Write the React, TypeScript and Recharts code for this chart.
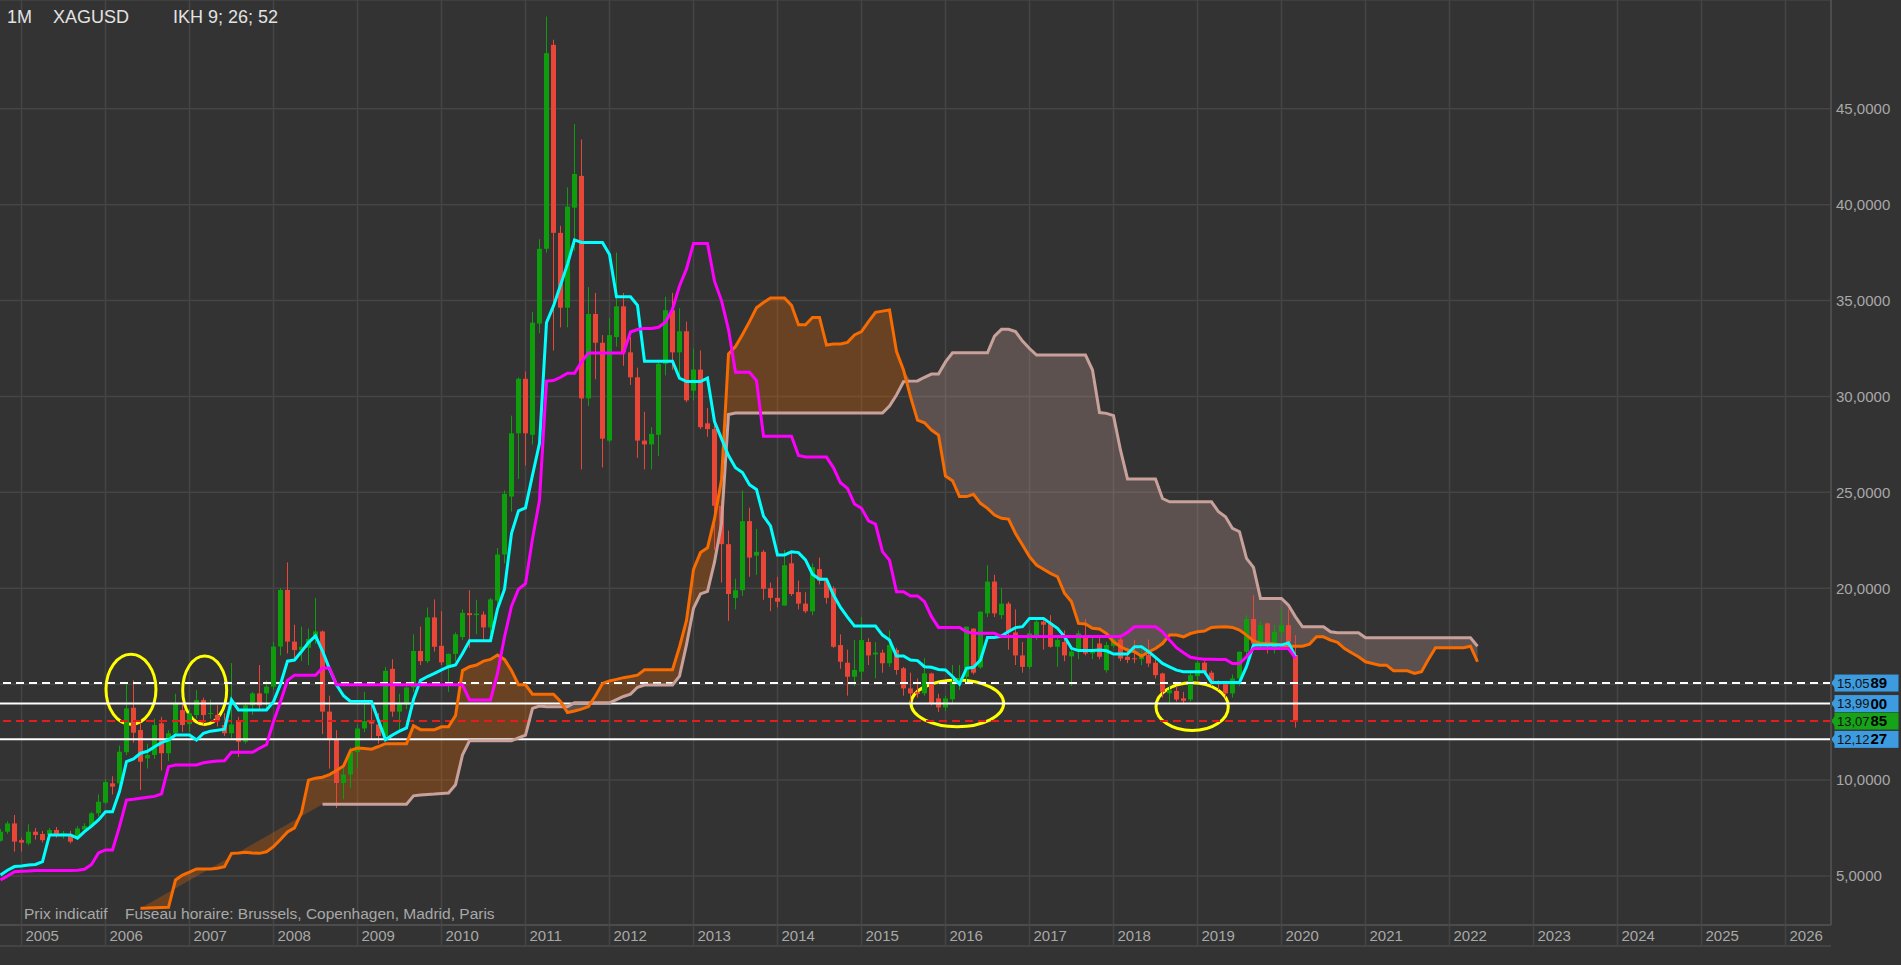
import React from 'react';
import {
  ComposedChart,
  Bar,
  Line,
  Area,
  XAxis,
  YAxis,
  CartesianGrid,
  ReferenceLine,
  ReferenceArea,
} from 'recharts';

const FONT = '"Liberation Sans", Arial, Helvetica, sans-serif';

// first category = October 2004, one category per month
const FIRST_YEAR = 2004;
const FIRST_MONTH = 9; // 0-based (October)
const MONTH_COUNT = 262;

// ---- monthly candles, Oct 2004 .. Mar 2020 ----
const opens = [
  6.84, 7.31, 7.74,
  6.87, 6.70, 7.31, 7.19, 7.14, 7.40, 7.10, 7.14, 6.96, 7.43, 7.60, 8.27,
  8.82, 9.83, 9.83, 11.45, 13.77, 12.61, 11.13, 11.31, 12.96, 11.40, 12.44, 13.65,
  12.92, 13.39, 14.17, 13.45, 13.40, 12.87, 12.44, 13.13, 12.00, 13.90, 14.52, 14.52,
  14.87, 16.96, 19.91, 17.22, 16.78, 16.90, 17.40, 17.75, 13.57, 12.11, 9.85, 10.29,
  11.46, 12.69, 13.07, 12.90, 12.30, 15.80, 13.57, 13.95, 14.83, 16.73, 16.20, 18.48,
  17.00, 15.85, 16.58, 17.46, 18.70, 18.60, 18.63, 17.96, 19.36, 21.76, 24.78, 28.08,
  30.92, 28.00, 33.80, 37.70, 48.33, 38.53, 34.63, 39.84, 41.50, 29.90, 34.30, 32.80,
  27.70, 33.10, 34.70, 32.30, 31.00, 27.70, 27.50, 28.00, 31.70, 34.50, 32.30, 33.40,
  30.30, 31.40, 28.60, 28.30, 24.30, 22.30, 19.50, 19.90, 23.50, 21.70, 21.90, 20.00,
  19.50, 19.10, 21.30, 19.80, 19.20, 18.80, 21.00, 20.40, 20.00, 17.04, 16.12, 15.39,
  15.65, 17.20, 16.55, 16.64, 16.09, 16.78, 15.83, 14.78, 14.60, 14.52, 15.56, 14.26,
  13.79, 14.21, 15.10, 15.39, 17.90, 15.88, 18.69, 20.35, 18.60, 19.20, 17.70, 16.50,
  15.90, 17.56, 18.26, 18.17, 16.95, 17.20, 16.45, 16.70, 17.56, 16.60, 17.12, 15.73,
  17.00, 17.33, 16.43, 16.35, 16.30, 16.52, 16.12, 15.56, 14.52, 14.65, 14.26, 14.20,
  15.42, 16.12, 15.60, 15.13, 15.00, 14.52, 15.30, 16.69, 18.40, 17.12, 18.17, 16.78,
  17.73, 18.08, 16.52,
];
const highs = [
  7.45, 7.85, 8.18,
  7.00, 7.70, 7.50, 7.35, 7.50, 7.55, 7.35, 7.35, 7.60, 7.75, 8.35, 9.25,
  10.05, 10.20, 11.80, 15.10, 15.20, 13.00, 11.90, 13.20, 13.30, 12.60, 14.50, 14.10,
  13.70, 14.70, 14.30, 14.20, 13.90, 13.50, 16.10, 13.30, 14.00, 14.60, 16.00, 15.20,
  17.20, 20.00, 21.35, 18.10, 18.00, 17.90, 19.50, 17.80, 14.40, 12.60, 10.90, 11.70,
  12.90, 14.60, 14.10, 13.50, 15.90, 16.30, 14.50, 15.10, 17.60, 18.00, 19.00, 19.42,
  18.80, 16.60, 17.70, 18.90, 19.90, 19.40, 18.80, 19.50, 22.10, 25.10, 29.00, 31.00,
  31.30, 34.40, 38.20, 49.80, 48.60, 38.90, 40.90, 44.20, 43.40, 35.70, 35.40, 33.20,
  34.10, 37.50, 35.40, 33.10, 31.50, 29.20, 28.40, 31.80, 35.20, 35.40, 34.60, 33.90,
  32.50, 32.40, 29.40, 28.70, 24.60, 23.00, 20.50, 25.10, 24.20, 23.10, 22.00, 20.30,
  20.60, 22.00, 21.90, 20.40, 19.80, 21.30, 21.60, 20.50, 20.10, 17.60, 16.80, 17.30,
  18.50, 17.40, 17.20, 16.80, 17.80, 16.90, 15.90, 15.60, 15.30, 16.35, 15.60, 14.50,
  14.40, 16.00, 16.00, 18.00, 17.90, 18.80, 21.20, 20.70, 20.00, 19.30, 18.90, 17.20,
  17.80, 18.50, 18.40, 18.60, 17.40, 17.80, 16.90, 17.80, 18.40, 17.50, 17.40, 17.20,
  17.70, 17.40, 16.90, 17.30, 16.80, 17.33, 16.30, 15.60, 14.90, 14.90, 14.60, 15.60,
  16.20, 16.20, 15.70, 15.20, 15.05, 15.50, 16.70, 18.60, 19.64, 18.30, 18.20, 18.10,
  18.90, 18.90, 17.56,
];
const lows = [
  6.80, 7.20, 6.27,
  6.27, 6.60, 6.90, 6.75, 6.95, 7.00, 6.95, 6.70, 6.90, 7.25, 7.55, 8.10,
  8.75, 9.25, 9.60, 11.30, 11.95, 9.48, 10.60, 11.10, 10.50, 11.00, 12.30, 12.50,
  12.50, 13.20, 12.90, 13.20, 12.80, 12.30, 12.20, 11.20, 11.90, 13.40, 13.70, 13.70,
  14.70, 16.50, 16.60, 16.30, 16.20, 16.00, 17.10, 12.40, 10.60, 8.54, 9.00, 9.60,
  10.60, 12.50, 12.10, 11.90, 12.20, 13.30, 12.50, 13.70, 14.60, 16.00, 16.10, 16.70,
  16.00, 14.60, 16.20, 17.30, 16.90, 17.60, 17.30, 17.60, 19.10, 21.30, 24.00, 25.70,
  26.40, 27.50, 33.30, 37.50, 32.40, 33.60, 33.60, 37.60, 26.20, 29.50, 30.90, 26.30,
  27.60, 32.60, 31.60, 30.60, 26.80, 26.20, 26.20, 26.90, 31.10, 31.40, 31.10, 29.70,
  29.80, 28.30, 27.90, 22.00, 20.30, 18.30, 18.90, 19.60, 20.60, 20.70, 19.40, 18.80,
  19.00, 19.10, 19.60, 18.90, 18.70, 18.60, 20.20, 19.20, 16.90, 15.80, 14.40, 14.90,
  15.20, 16.00, 15.30, 15.60, 15.90, 15.50, 14.40, 14.00, 14.30, 14.40, 13.90, 13.55,
  13.60, 14.00, 14.70, 15.00, 15.50, 15.80, 18.50, 18.50, 18.40, 16.80, 16.00, 15.60,
  15.80, 17.30, 16.80, 16.90, 15.90, 16.20, 14.90, 16.30, 16.50, 16.30, 16.30, 15.60,
  16.90, 16.20, 16.10, 16.10, 16.00, 15.90, 15.30, 14.30, 13.96, 14.10, 13.96, 14.10,
  15.20, 15.50, 14.90, 14.70, 14.30, 14.30, 14.90, 16.50, 16.90, 16.90, 16.60, 16.60,
  17.40, 16.80, 12.74,
];
const closes = [
  7.31, 7.74, 6.79,
  6.74, 7.31, 7.14, 6.87, 7.40, 7.10, 7.22, 6.79, 7.48, 7.60, 8.27, 8.87,
  9.90, 9.66, 11.48, 13.74, 12.47, 10.96, 11.31, 12.87, 11.40, 12.44, 13.97, 12.87,
  13.48, 14.17, 13.39, 13.50, 13.10, 12.44, 12.90, 12.00, 13.90, 14.52, 13.90, 14.87,
  16.96, 19.91, 17.22, 16.78, 16.95, 17.35, 17.75, 13.57, 12.11, 9.85, 10.29, 11.46,
  12.69, 13.07, 12.95, 12.30, 15.70, 13.57, 13.95, 14.83, 16.73, 16.20, 18.48, 16.95,
  16.14, 16.58, 17.60, 18.72, 18.60, 18.68, 17.96, 19.42, 21.76, 24.92, 28.08, 30.92,
  28.08, 33.85, 37.70, 47.90, 38.53, 34.63, 39.90, 41.60, 29.90, 34.30, 32.80, 27.80,
  33.20, 34.70, 32.30, 31.00, 27.70, 27.50, 28.05, 31.70, 34.50, 32.30, 33.40, 29.80,
  31.40, 28.40, 28.30, 24.30, 22.30, 19.70, 19.90, 23.50, 21.60, 21.90, 19.97, 19.50,
  19.30, 21.20, 19.70, 19.20, 18.80, 21.10, 20.40, 19.50, 16.95, 16.17, 15.39, 15.74,
  17.30, 16.50, 16.65, 16.09, 17.04, 15.74, 14.78, 14.52, 14.50, 15.56, 14.00, 13.79,
  14.26, 15.13, 15.30, 18.00, 15.60, 18.78, 20.35, 18.69, 19.20, 17.70, 16.50, 15.90,
  17.65, 18.26, 18.10, 16.95, 17.30, 16.50, 16.70, 17.65, 16.60, 16.75, 16.43, 17.04,
  17.33, 16.34, 16.26, 16.30, 16.45, 16.08, 15.47, 14.60, 14.69, 14.20, 14.13, 15.47,
  16.12, 15.65, 15.13, 15.00, 14.52, 15.30, 16.69, 18.40, 17.12, 18.08, 17.12, 17.73,
  18.08, 17.21, 13.08,
];

// ---- Ichimoku lines ----
const tenkan = [
  5.05, 5.30, 5.49,
  5.52, 5.57, 5.60, 5.75, 7.14, 7.14, 7.14, 7.14, 6.97, 7.31, 7.60, 7.92,
  8.35, 8.35, 9.40, 10.96, 11.10, 11.40, 11.50, 11.74, 11.95, 12.09, 12.35, 12.35,
  12.35, 12.09, 12.44, 12.55, 12.60, 12.65, 14.18, 13.65, 13.65, 13.65, 13.65, 13.65,
  14.09, 15.00, 16.20, 16.26, 16.70, 17.17, 17.52, 16.73, 15.80, 14.97, 14.40, 14.10,
  14.10, 14.10, 14.10, 13.10, 12.11, 12.35, 12.55, 12.72, 14.20, 15.20, 15.40, 15.56,
  15.75, 15.91, 16.00, 16.60, 17.26, 17.26, 17.26, 17.26, 18.92, 19.95, 22.87, 24.04,
  24.19, 25.90, 27.56, 33.85, 34.72, 35.80, 36.90, 38.16, 38.03, 38.03, 38.03, 38.03,
  37.40, 35.20, 35.20, 35.20, 34.75, 31.84, 31.84, 31.84, 31.84, 31.84, 30.96, 30.78,
  30.78, 30.78, 30.96, 28.69, 27.80, 26.92, 26.28, 26.03, 25.40, 25.15, 23.76, 23.25,
  21.74, 21.74, 21.90, 21.86, 21.48, 20.73, 20.47, 20.47, 19.65, 19.00, 18.50, 18.03,
  18.03, 18.03, 18.03, 17.56, 17.30, 16.47, 16.47, 16.26, 16.23, 15.91, 15.88, 15.77,
  15.74, 15.40, 15.01, 15.83, 15.88, 16.26, 17.44, 17.44, 17.51, 17.75, 17.95, 18.00,
  18.43, 18.43, 18.43, 18.17, 17.91, 17.48, 16.87, 16.75, 16.75, 16.75, 16.78, 16.74,
  16.57, 16.57, 16.57, 16.95, 16.95, 16.70, 16.40, 16.08, 15.90, 15.73, 15.65, 15.65,
  15.65, 15.65, 15.09, 15.09, 15.09, 15.09, 15.09, 15.91, 17.04, 17.04, 17.04, 17.04,
  17.04, 17.16, 16.43,
];
const kijun = [
  4.79, 5.00, 5.22,
  5.25, 5.26, 5.28, 5.28, 5.28, 5.28, 5.28, 5.28, 5.30, 5.35, 5.60, 6.20,
  6.36, 6.36, 7.57, 8.96, 9.00, 9.05, 9.10, 9.15, 9.28, 10.70, 10.79, 10.79,
  10.79, 10.79, 10.90, 10.96, 11.00, 11.01, 11.45, 11.45, 11.45, 11.45, 11.66, 11.85,
  13.05, 14.09, 15.20, 15.47, 15.47, 15.47, 15.47, 15.85, 15.85, 14.97, 14.97, 14.97,
  14.97, 14.97, 14.97, 14.97, 14.97, 14.97, 14.97, 14.97, 14.97, 14.97, 14.97, 14.97,
  14.97, 14.97, 14.97, 14.97, 14.18, 14.18, 14.18, 14.18, 15.56, 17.46, 19.07, 19.95,
  20.24, 22.58, 24.60, 30.80, 30.83, 31.00, 31.21, 31.21, 31.80, 32.27, 32.27, 32.27,
  32.27, 32.27, 32.27, 33.36, 33.49, 33.55, 33.55, 33.61, 33.87, 34.55, 35.76, 36.65,
  37.98, 37.98, 37.98, 36.01, 35.00, 33.49, 31.26, 31.26, 31.26, 30.83, 27.93, 27.93,
  27.93, 27.93, 27.93, 26.92, 26.84, 26.84, 26.84, 26.84, 26.28, 25.50, 25.21, 24.39,
  24.17, 23.52, 23.35, 21.91, 21.47, 19.82, 19.82, 19.60, 19.60, 19.30, 18.52, 17.96,
  17.96, 17.96, 17.96, 17.74, 17.65, 17.65, 17.65, 17.65, 17.48, 17.48, 17.48, 17.48,
  17.48, 17.48, 17.48, 17.48, 17.48, 17.48, 17.48, 17.48, 17.48, 17.48, 17.48, 17.48,
  17.48, 17.48, 17.70, 17.99, 17.99, 17.99, 17.99, 17.73, 17.30, 16.90, 16.64, 16.40,
  16.34, 16.30, 16.30, 16.29, 16.29, 16.08, 16.08, 16.43, 16.86, 16.86, 16.86, 16.86,
  16.86, 16.86, 16.34,
];
// Senkou span A, from Jun 2006 to May 2022
const spanAStart = 20;
const spanA = [
  3.32, 3.33, 3.35, 3.36, 3.37, 4.79, 5.05,
  5.20, 5.37, 5.37, 5.37, 5.40, 5.49, 6.18, 6.20, 6.24, 6.20, 6.18, 6.26,
  6.53, 6.90, 7.30, 7.51, 8.30, 10.00, 10.10, 10.15, 10.29, 10.50, 10.73, 11.55,
  11.67, 11.65, 11.61, 11.75, 11.90, 11.90, 11.90, 11.90, 12.84, 12.63, 12.63, 12.63,
  12.78, 12.78, 13.36, 15.71, 15.91, 16.00, 16.20, 16.29, 16.52, 16.29, 15.71, 14.97,
  14.97, 14.48, 14.48, 14.48, 14.48, 14.10, 13.52, 13.60, 13.70, 13.83, 14.40, 15.04,
  15.17, 15.25, 15.34, 15.40, 15.47, 15.75, 15.75, 15.75, 15.75, 15.75, 16.94, 18.32,
  20.98, 21.86, 22.11, 23.63, 25.65, 32.22, 32.60, 33.23, 33.90, 34.62, 34.90, 35.13,
  35.13, 35.13, 34.75, 33.74, 33.74, 34.12, 34.12, 32.68, 32.73, 32.74, 32.82, 33.21,
  33.38, 33.90, 34.39, 34.45, 34.51, 32.34, 31.38, 29.99, 28.77, 28.63, 28.25, 27.99,
  25.85, 25.61, 24.78, 24.78, 24.90, 24.43, 24.17, 23.82, 23.65, 23.61, 22.86, 22.26,
  21.65, 21.21, 20.99, 20.78, 20.60, 19.74, 19.30, 18.17, 18.14, 17.91, 17.88, 17.64,
  17.21, 16.95, 16.78, 16.69, 16.46, 16.69, 16.86, 17.12, 17.56, 17.56, 17.47, 17.64,
  17.73, 17.77, 17.96, 17.98, 17.99, 17.96, 17.82, 17.56, 17.26, 17.12, 17.12, 17.10,
  17.04, 16.98, 16.98, 16.98, 17.09, 17.47, 17.47, 17.30, 17.18, 16.86, 16.64, 16.43,
  16.17, 16.08, 15.99, 15.99, 15.70, 15.70, 15.70, 15.56, 15.65, 16.30, 16.90, 16.90,
  16.90, 16.90, 16.90, 16.98, 16.17,
];
// Senkou span B, from Aug 2008 to May 2022
const spanBStart = 46;
const spanB = [
  8.74, 8.74, 8.74, 8.74, 8.74,
  8.74, 8.74, 8.74, 8.74, 8.74, 8.74, 8.74, 8.74, 9.18, 9.22, 9.25, 9.27,
  9.30, 9.33, 9.76, 11.31, 12.05, 12.05, 12.05, 12.05, 12.05, 12.05, 12.05, 12.20,
  12.34, 13.74, 13.86, 13.83, 13.83, 13.83, 13.83, 14.03, 14.03, 14.03, 14.03, 14.03,
  14.03, 14.20, 14.36, 14.48, 14.84, 14.96, 14.96, 14.96, 14.96, 14.96, 15.42, 17.06,
  18.96, 19.71, 19.84, 21.36, 23.38, 29.06, 29.14, 29.14, 29.14, 29.14, 29.14, 29.14,
  29.14, 29.14, 29.14, 29.14, 29.14, 29.14, 29.14, 29.14, 29.14, 29.14, 29.14, 29.14,
  29.14, 29.14, 29.14, 29.14, 29.50, 30.08, 30.77, 30.80, 30.81, 31.00, 31.17, 31.17,
  31.80, 32.28, 32.28, 32.28, 32.28, 32.28, 32.28, 33.15, 33.50, 33.50, 33.38, 32.89,
  32.50, 32.16, 32.16, 32.16, 32.16, 32.16, 32.16, 32.16, 32.16, 31.38, 29.16, 29.12,
  29.00, 27.20, 25.70, 25.70, 25.70, 25.70, 25.70, 24.68, 24.51, 24.51, 24.51, 24.51,
  24.51, 24.51, 24.51, 23.99, 23.73, 23.12, 22.95, 21.56, 21.09, 19.47, 19.47, 19.47,
  19.47, 19.12, 18.51, 17.99, 17.99, 17.99, 17.99, 17.73, 17.68, 17.68, 17.68, 17.68,
  17.42, 17.42, 17.42, 17.42, 17.42, 17.42, 17.42, 17.42, 17.42, 17.42, 17.42, 17.42,
  17.42, 17.42, 17.42, 17.42, 16.98,
];
// upper edge of the cloud fill before span B exists (as drawn in the picture)
const cloudEdgeStart = 20;
const cloudEdge = [
  3.32, 3.53, 3.74, 3.95, 4.15, 4.36, 4.57, 4.78, 4.99, 5.20, 5.40, 5.61, 5.82,
  6.03, 6.24, 6.45, 6.66, 6.86, 7.07, 7.28, 7.49, 7.70, 7.91, 8.11, 8.32, 8.53,
];

const yearLabels = [
  '2005', '2006', '2007', '2008', '2009', '2010', '2011', '2012', '2013', '2014', '2015',
  '2016', '2017', '2018', '2019', '2020', '2021', '2022', '2023', '2024', '2025', '2026',
];
const priceTicks = [5, 10, 15, 20, 25, 30, 35, 40, 45];

const priceLevels = [
  { value: 15.0589, head: '15,05', tail: '89' },
  { value: 13.99, head: '13,99', tail: '00' },
  { value: 13.0785, head: '13,07', tail: '85' },
  { value: 12.1227, head: '12,12', tail: '27' },
];
// styling of each level line / tag (same order as priceLevels)
const levelStyles = [
  { line: '#ffffff', dash: '8 5', tag: '#3d9be0' },
  { line: '#ffffff', dash: '', tag: '#3d9be0' },
  { line: '#e31c1c', dash: '8 5', tag: '#17a317' },
  { line: '#ffffff', dash: '', tag: '#3d9be0' },
];

// x in months from the left edge of the first category, y in price
const highlightZones = [
  { x1: 15.57, x2: 22.71, y1: 12.91, y2: 16.56 },
  { x1: 26.53, x2: 32.81, y1: 12.9, y2: 16.47 },
  { x1: 130.57, x2: 143.81, y1: 12.78, y2: 15.22 },
  { x1: 165.57, x2: 175.9, y1: 12.58, y2: 15.08 },
];

const GREEN = '#0d9d0d';
const RED = '#ea4638';
const CYAN = '#00ffff';
const MAGENTA = '#ff00ff';
const ORANGE = '#f76b00';
const PINK = '#c9a19b';

const rows = Array.from({ length: MONTH_COUNT }, (_, i) => {
  const year = FIRST_YEAR + Math.floor((FIRST_MONTH + i) / 12);
  const month = (FIRST_MONTH + i) % 12;
  const has = i < opens.length;
  const a = i >= spanAStart && i - spanAStart < spanA.length ? spanA[i - spanAStart] : null;
  const b = i >= spanBStart && i - spanBStart < spanB.length ? spanB[i - spanBStart] : null;
  const e = i >= cloudEdgeStart && i - cloudEdgeStart < cloudEdge.length ? cloudEdge[i - cloudEdgeStart] : null;
  let bull: number[] | null = null;
  let bear: number[] | null = null;
  if (a != null && b != null) {
    bull = a >= b ? [b, a] : [b, b];
    bear = a < b ? [a, b] : [a, a];
  } else if (a != null && e != null) {
    bull = [e, a];
  }
  return {
    i,
    x: i + 0.5,
    year,
    month,
    o: has ? opens[i] : null,
    h: has ? highs[i] : null,
    l: has ? lows[i] : null,
    c: has ? closes[i] : null,
    candle: has ? [lows[i], highs[i]] : null,
    tenkan: i < tenkan.length ? tenkan[i] : null,
    kijun: i < kijun.length ? kijun[i] : null,
    spanA: a,
    spanB: b,
    bull,
    bear,
  };
});

const januaryRows = rows.filter((r) => r.month === 0);
const yearTicks = januaryRows.map((r) => r.x);
const yearFor = (v: number) => {
  const r = januaryRows.find((row) => row.x === v);
  if (!r) return '';
  const label = yearLabels.find((y) => Number(y) === r.year);
  return label || '';
};

const Candle = (props: any) => {
  const { x, y, width, height, payload } = props;
  if (!payload || payload.o == null || height == null) return null;
  const { o, h, l, c } = payload;
  const color = c >= o ? GREEN : RED;
  const toY = (v: number) => (h === l ? y : y + ((h - v) / (h - l)) * height);
  const cx = x + width / 2;
  const top = toY(Math.max(o, c));
  const bottom = toY(Math.min(o, c));
  return (
    <g>
      <line x1={cx} x2={cx} y1={y} y2={y + height} stroke={color} strokeWidth={1} />
      <rect x={x} y={top} width={width} height={Math.max(1, bottom - top)} fill={color} />
    </g>
  );
};

const PriceTag = (props: any) => {
  const { viewBox, head, tail, bg } = props;
  if (!viewBox) return null;
  const X = viewBox.x + viewBox.width;
  const y = viewBox.y;
  return (
    <g>
      <polygon points={`${X},${y} ${X + 4},${y - 5} ${X + 4},${y + 5}`} fill={bg} />
      <rect x={X + 3.5} y={y - 8.5} width={64} height={17} fill={bg} />
      <text x={X + 6} y={y + 4.6} fill="#111111" fontSize={13} fontFamily={FONT}>
        {head}
      </text>
      <text x={X + 39.5} y={y + 5} fill="#000000" fontSize={15} fontWeight="bold" fontFamily={FONT}>
        {tail}
      </text>
    </g>
  );
};

const YearTick = (props: any) => {
  const { x, y, payload } = props;
  return (
    <text x={x + 4} y={y - 5.5} fill="#a8a8a8" fontSize={15} fontFamily={FONT}>
      {yearFor(payload.value)}
    </text>
  );
};

// price-axis label; hidden where a price tag sits on top of it (as in the picture)
const PriceTick = (props: any) => {
  const { x, y, payload } = props;
  const v = payload.value as number;
  const covered = priceLevels.some((p) => Math.abs(p.value - v) < 0.5);
  if (covered) return null;
  return (
    <text x={x} y={y} dy="0.355em" fill="#a8a8a8" fontSize={15} fontFamily={FONT} textAnchor="start">
      {v.toFixed(4).replace('.', ',')}
    </text>
  );
};

export default function App() {
  return (
    <div
      style={{
        position: 'fixed',
        left: 0,
        top: 0,
        width: 1901,
        height: 965,
        background: '#333333',
        overflow: 'hidden',
        fontFamily: FONT,
      }}
    >
      <div style={{ position: 'absolute', left: -3, top: 0 }}>
        <ComposedChart
          width={1904}
          height={965}
          data={rows}
          margin={{ top: 0, right: 0, bottom: 19, left: 0 }}
        >
          <CartesianGrid stroke="#454545" strokeWidth={1.5} />
          <XAxis
            dataKey="x"
            type="number"
            domain={[0, MONTH_COUNT]}
            allowDataOverflow
            ticks={yearTicks}
            interval={0}
            height={21}
            tickSize={21}
            tickMargin={0}
            tickLine={{ stroke: '#454545', strokeWidth: 1.5 }}
            axisLine={{ stroke: '#4c4c4c', strokeWidth: 2 }}
            tick={<YearTick />}
          />
          <XAxis xAxisId="cat" dataKey="i" type="category" hide />
          <YAxis
            orientation="right"
            width={70}
            domain={[2.445, 50.67]}
            allowDataOverflow
            ticks={priceTicks}
            interval={0}
            tickLine={false}
            tickSize={3}
            tickMargin={2}
            axisLine={{ stroke: '#4c4c4c', strokeWidth: 2 }}
            tick={<PriceTick />}
          />
          <Area
            dataKey="bull"
            type="linear"
            stroke="none"
            fill={ORANGE}
            fillOpacity={0.28}
            activeDot={false}
            isAnimationActive={false}
          />
          <Area
            dataKey="bear"
            type="linear"
            stroke="none"
            fill={PINK}
            fillOpacity={0.28}
            activeDot={false}
            isAnimationActive={false}
          />
          <Bar
            xAxisId="cat"
            dataKey="candle"
            barSize={5}
            shape={(p: any) => <Candle {...p} />}
            activeBar={false}
            isAnimationActive={false}
          />
          {priceLevels.map((p, k) => (
            <ReferenceLine
              key={p.value}
              y={p.value}
              stroke={levelStyles[k].line}
              strokeWidth={2}
              strokeDasharray={levelStyles[k].dash || undefined}
              label={<PriceTag head={p.head} tail={p.tail} bg={levelStyles[k].tag} />}
            />
          ))}
          <Line dataKey="spanB" type="linear" stroke={PINK} strokeWidth={3} dot={false} activeDot={false} isAnimationActive={false} />
          <Line dataKey="spanA" type="linear" stroke={ORANGE} strokeWidth={3} dot={false} activeDot={false} isAnimationActive={false} />
          <Line dataKey="tenkan" type="linear" stroke={CYAN} strokeWidth={3} dot={false} activeDot={false} isAnimationActive={false} />
          <Line dataKey="kijun" type="linear" stroke={MAGENTA} strokeWidth={3} dot={false} activeDot={false} isAnimationActive={false} />
          {highlightZones.map((z, k) => (
            <ReferenceArea
              key={k}
              x1={z.x1}
              x2={z.x2}
              y1={z.y1}
              y2={z.y2}
              ifOverflow="visible"
              shape={(p: any) => (
                <ellipse
                  cx={p.x + p.width / 2}
                  cy={p.y + p.height / 2}
                  rx={Math.abs(p.width) / 2}
                  ry={Math.abs(p.height) / 2}
                  fill="none"
                  stroke="#ffff00"
                  strokeWidth={3}
                />
              )}
            />
          ))}
        </ComposedChart>
      </div>
      <div style={{ position: 'absolute', left: 0, top: 945, width: 1831, height: 2, background: '#444444' }} />
      <div style={{ position: 'absolute', left: 7, top: 8, fontSize: 18, lineHeight: 1, color: '#e2e2e2' }}>1M</div>
      <div style={{ position: 'absolute', left: 53, top: 8, fontSize: 18, lineHeight: 1, color: '#e2e2e2' }}>XAGUSD</div>
      <div style={{ position: 'absolute', left: 173, top: 8, fontSize: 18, lineHeight: 1, color: '#e2e2e2' }}>
        IKH 9; 26; 52
      </div>
      <div style={{ position: 'absolute', left: 24, top: 906, fontSize: 15.5, lineHeight: 1, color: '#a8a8a8' }}>
        Prix indicatif
      </div>
      <div style={{ position: 'absolute', left: 125, top: 906, fontSize: 15.5, lineHeight: 1, color: '#a8a8a8' }}>
        Fuseau horaire: Brussels, Copenhagen, Madrid, Paris
      </div>
    </div>
  );
}
